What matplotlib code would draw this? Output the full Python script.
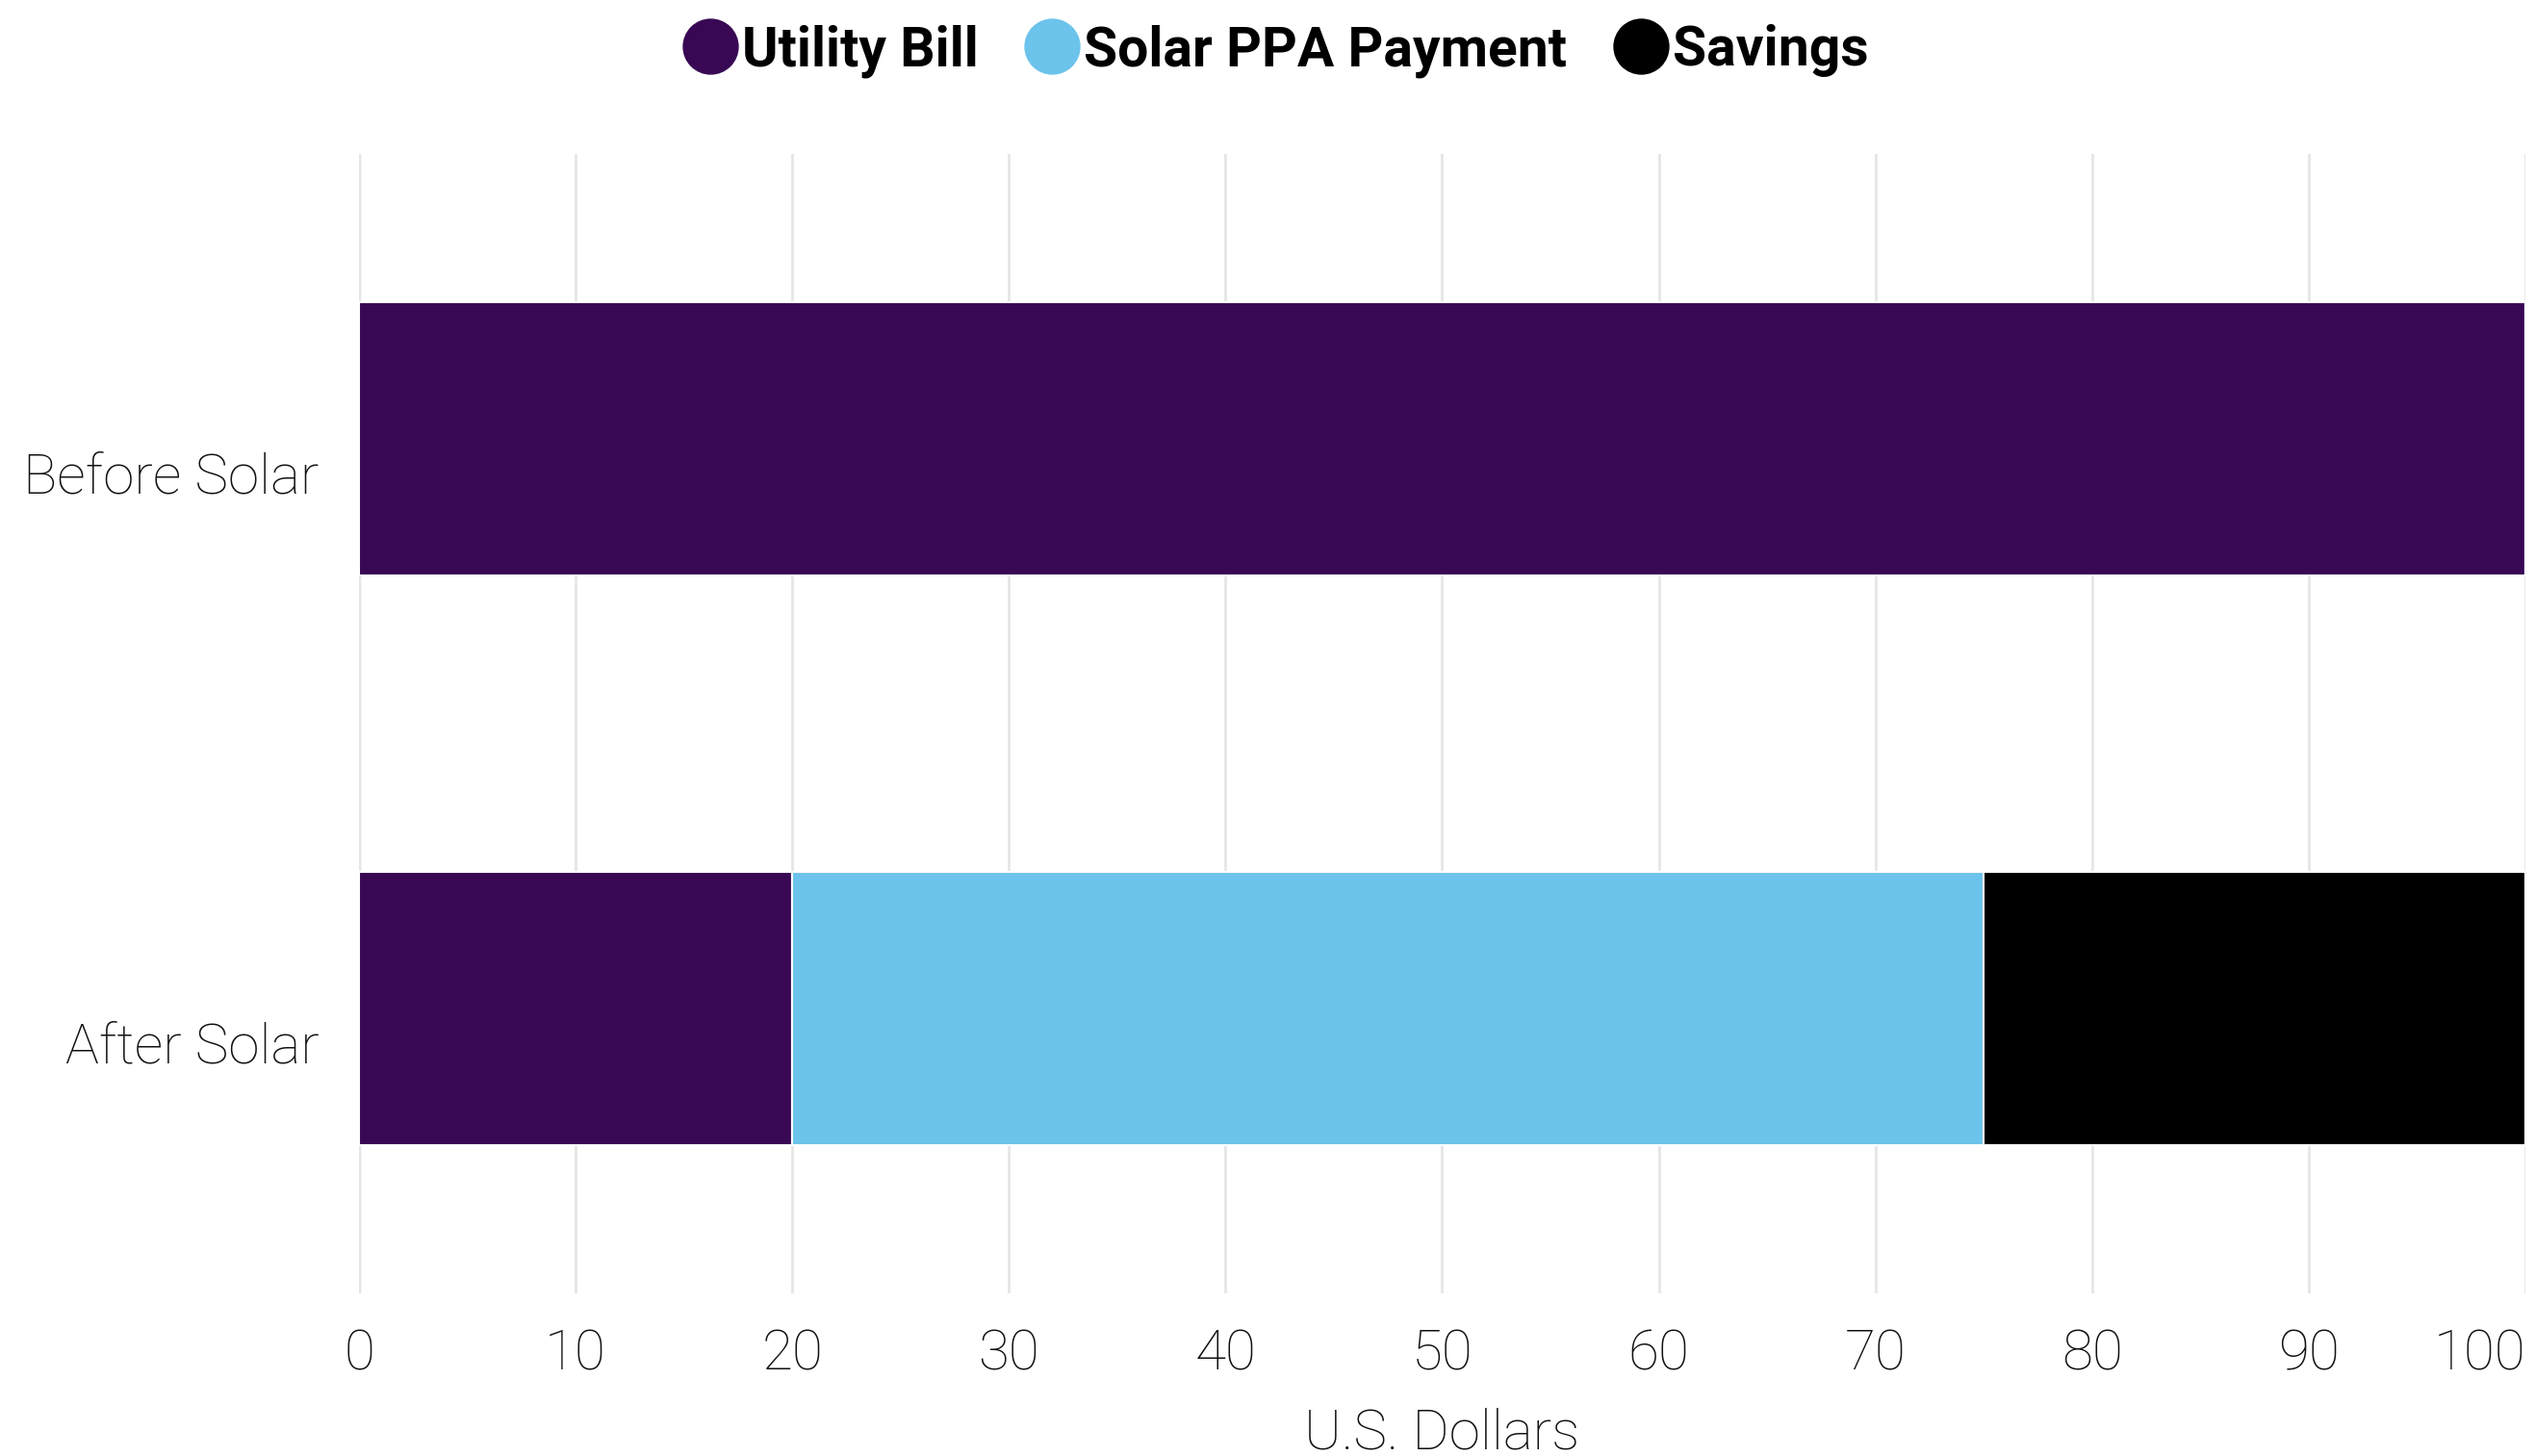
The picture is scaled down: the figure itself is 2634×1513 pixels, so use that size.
import numpy as np
from matplotlib import pyplot as plt
from matplotlib.lines import Line2D
from matplotlib import transforms

categories = ["Before Solar", "After Solar"]
series_names = ["Utility Bill", "Solar PPA Payment", "Savings"]
utility_bill = [100, 20]
solar_ppa = [0, 55]
savings = [0, 25]
colors = ["#380854", "#6cc3eb", "#000000"]
x_ticks = [0, 10, 20, 30, 40, 50, 60, 70, 80, 90, 100]


def main():
    plt.rcParams['font.family'] = ['Roboto', 'DejaVu Sans']
    fig = plt.figure(figsize=(26.34, 15.13), dpi=100)
    ax = fig.add_axes([0.1416, 0.1117, 0.8546, 0.7826])

    y = np.arange(len(categories))
    left = np.zeros(len(categories))
    for vals, col in zip([utility_bill, solar_ppa, savings], colors):
        ax.barh(y, vals, left=left, height=0.48, color=col,
                edgecolor="white", linewidth=1.5, zorder=3)
        left = left + np.array(vals)

    ax.set_xlim(0, 100)
    ax.set_ylim(1.5, -0.5)
    ax.set_xticks(x_ticks)
    ax.set_yticks(y)
    ax.set_yticklabels(categories)
    ax.xaxis.grid(True, color="#e6e6e6", linewidth=2, zorder=0)
    ax.axvline(0, color="#ccd6eb", linewidth=2.5, zorder=1)
    for s in ax.spines.values():
        s.set_visible(False)
    ax.tick_params(axis="both", length=0, labelsize=42, labelcolor="#111111")
    ax.tick_params(axis="x", pad=26)
    ax.tick_params(axis="y", pad=30)
    for lab in ax.get_xticklabels() + ax.get_yticklabels():
        lab.set_fontweight("light")
    # y labels sit a bit below the bar centres
    shift = transforms.ScaledTranslation(0, -25 / 72, fig.dpi_scale_trans)
    for lab in ax.get_yticklabels():
        lab.set_transform(lab.get_transform() + shift)
    last = ax.get_xticklabels()[-1]
    last.set_horizontalalignment("right")
    ax.set_xlabel("U.S. Dollars", fontsize=42, fontweight="light",
                  color="#111111", labelpad=20)

    handles = [Line2D([], [], marker="o", linestyle="", markersize=41,
                      markerfacecolor=c, markeredgecolor=c) for c in colors]
    fig.legend(handles, series_names, loc="center", bbox_to_anchor=(0.5, 0.965),
               ncol=3, frameon=False, handletextpad=-0.22, columnspacing=0.55,
               handlelength=1.6, prop={"size": 41, "weight": "bold"})

    plt.savefig("out.png", dpi=100)


if __name__ == "__main__":
    main()
